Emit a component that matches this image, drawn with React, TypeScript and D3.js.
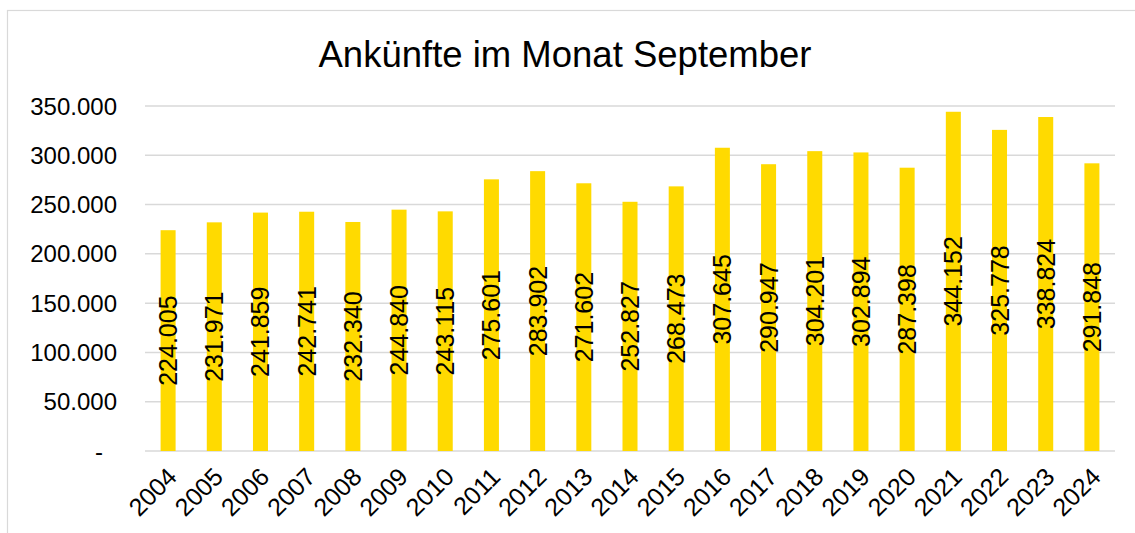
import React, { useEffect, useRef } from "react";
import * as d3 from "d3";

const years = [
  "2004", "2005", "2006", "2007", "2008", "2009", "2010", "2011", "2012", "2013", "2014",
  "2015", "2016", "2017", "2018", "2019", "2020", "2021", "2022", "2023", "2024",
];
const arrivals = [
  224005, 231971, 241859, 242741, 232340, 244840, 243115, 275601, 283902, 271602, 252827,
  268473, 307645, 290947, 304201, 302894, 287398, 344152, 325778, 338824, 291848,
];
const yTicks = [0, 50000, 100000, 150000, 200000, 250000, 300000, 350000];
const title = "Ankünfte im Monat September";

const width = 1135;
const height = 533;
const font = "'Liberation Sans', Arial, sans-serif";

// 1.234 style, zero shown as a dash like Excel
const fmt = (v: number) => (v === 0 ? "-" : d3.format(",")(v).replace(/,/g, "."));

export default function App() {
  const ref = useRef<SVGSVGElement>(null);

  useEffect(() => {
    const svg = d3.select(ref.current);
    svg.selectAll("*").remove();

    const left = 145, right = 1115, top = 106, bottom = 451;

    const x = d3.scaleBand().domain(years).range([left, right]).paddingInner(0.675).paddingOuter(0.3375);
    const y = d3.scaleLinear().domain([0, 350000]).range([bottom, top]);

    // chart frame
    svg.append("rect")
      .attr("x", 7.5).attr("y", 10.5)
      .attr("width", 1140).attr("height", 540)
      .attr("fill", "white").attr("stroke", "#d9d9d9").attr("stroke-width", 1.2);

    svg.append("text")
      .attr("x", 565).attr("y", 67)
      .attr("text-anchor", "middle")
      .style("font-family", font).style("font-size", "36.5px")
      .attr("fill", "#000")
      .text(title);

    // gridlines
    svg.append("g").selectAll("line")
      .data(yTicks)
      .enter().append("line")
      .attr("x1", left).attr("x2", right)
      .attr("y1", d => y(d)).attr("y2", d => y(d))
      .attr("stroke", "#d9d9d9").attr("stroke-width", 1.5);

    // y labels (accounting format: the dash sits indented)
    svg.append("g").selectAll("text")
      .data(yTicks)
      .enter().append("text")
      .attr("x", 117).attr("y", d => y(d))
      .attr("dx", d => (d === 0 ? -14 : 0))
      .attr("text-anchor", "end").attr("dominant-baseline", "central")
      .style("font-family", font).style("font-size", "24px")
      .text(d => fmt(d));

    // bars
    svg.append("g").selectAll("rect")
      .data(years)
      .enter().append("rect")
      .attr("x", d => x(d)!)
      .attr("y", (d, i) => y(arrivals[i]))
      .attr("width", x.bandwidth())
      .attr("height", (d, i) => bottom - y(arrivals[i]))
      .attr("fill", "#ffda00");

    // value labels, rotated and centred in the bar
    svg.append("g").selectAll("text")
      .data(years)
      .enter().append("text")
      .attr("transform", (d, i) => {
        const cx = x(d)! + x.bandwidth() / 2;
        const cy = (y(arrivals[i]) + bottom) / 2;
        return `translate(${cx},${cy}) rotate(-90)`;
      })
      .attr("text-anchor", "middle").attr("dominant-baseline", "central")
      .style("font-family", font).style("font-size", "25px")
      .text((d, i) => fmt(arrivals[i]));

    // x labels
    svg.append("g").selectAll("text")
      .data(years)
      .enter().append("text")
      .attr("transform", d => `translate(${x(d)! + x.bandwidth() / 2 + 4},${bottom + 21}) rotate(-45)`)
      .attr("text-anchor", "end").attr("dominant-baseline", "central")
      .style("font-family", font).style("font-size", "25px")
      .text(d => d);
  }, []);

  return (
    <svg ref={ref} width={width} height={height}
      style={{ position: "absolute", left: 0, top: 0, background: "white" }} />
  );
}
